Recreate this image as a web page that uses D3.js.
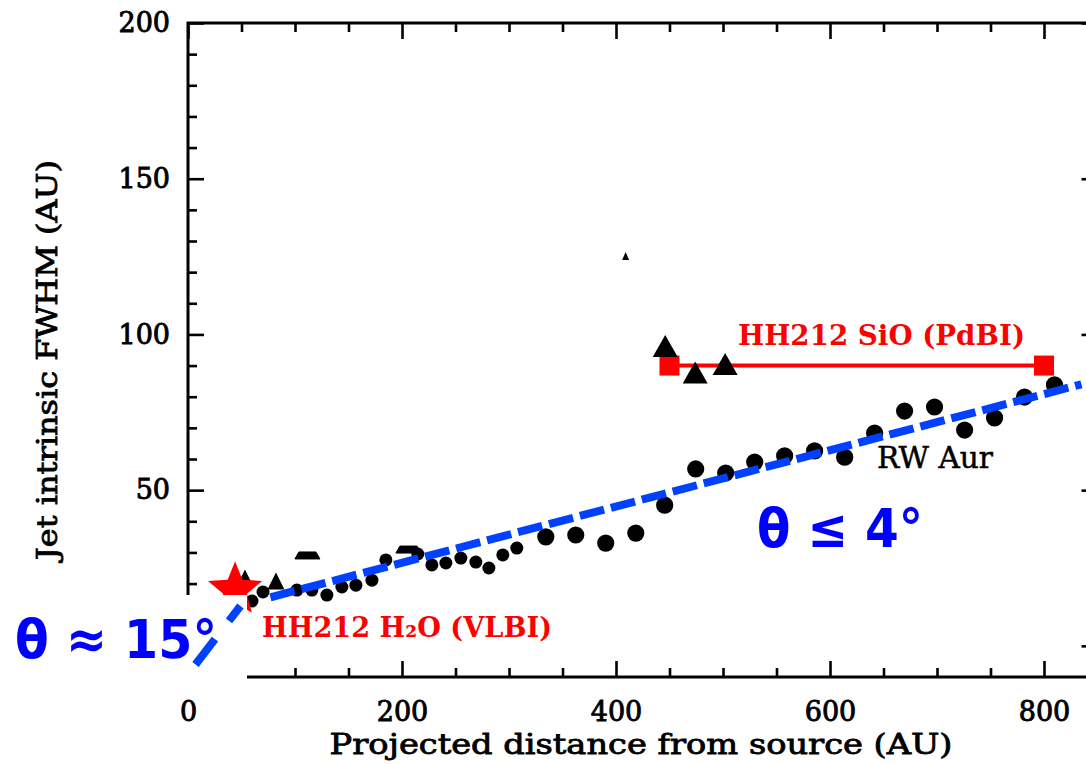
<!DOCTYPE html>
<html>
<head>
<meta charset="utf-8">
<script src="https://cdn.jsdelivr.net/npm/d3@7"></script>
<style>
  html, body { margin: 0; padding: 0; background: #fff; }
  svg { display: block; }
</style>
</head>
<body>
<svg id="chart" width="1086" height="764"></svg>
<script>
// ---- Data: projected distance (AU) vs. jet intrinsic FWHM (AU) ----

// RW Aur, finely sampled inner knots [distance, FWHM]
const rwAurInner = [
  [59.8, 14.4], [70.1, 17.3], [101.8, 17.9], [115.8, 17.9], [129.8, 16.3],
  [143.8, 18.9], [156.9, 19.5], [171.9, 21.1], [184.9, 27.6], [214.8, 29.5],
  [227.9, 26.0], [241.0, 26.6], [255.0, 28.2], [269.0, 26.9], [281.2, 25.0],
  [294.2, 29.2], [307.3, 31.4]
];

// RW Aur, outer knots [distance, FWHM]
const rwAurOuter = [
  [334.4, 35.0], [362.4, 35.6], [390.4, 33.0], [418.5, 36.2], [445.5, 45.2],
  [474.5, 56.8], [502.5, 55.5], [529.6, 59.0], [557.6, 61.0], [585.6, 62.6],
  [613.7, 60.6], [641.7, 68.3], [669.7, 75.4], [697.7, 76.7], [725.8, 69.3],
  [753.8, 73.2], [781.8, 79.9], [809.8, 83.8]
];

// Triangles [distance, FWHM]
const triSmall = [[53.2, 21.8], [82.2, 20.8]];
const triLarge = [[446.0, 96.3], [474.0, 87.8], [502.0, 90.5]];
const triTiny = [[409.0, 125.2]];
// Triangles whose upper part is hidden: [distance, FWHM at base]
const triBaseOnly = [[111.6, 27.9], [206.0, 29.8]];

// HH212 SiO (PdBI): width range endpoints [distance, FWHM]
const hh212SiO = [[450, 90], [800, 90]];
// HH212 H2O (VLBI) [distance, FWHM]
const hh212H2O = [[44, 18]];

// Opening-angle fits [distance, FWHM]
const fitWide = [[7, -6.0], [49, 12.8]];     // theta ~ 15 deg
const fitNarrow = [[77, 15.6], [835, 84.0]]; // theta <= 4 deg

// Axis ticks
const xMajorTicks = [0, 200, 400, 600, 800];
const xMinorTicks = [50, 100, 150, 250, 300, 350, 450, 500, 550, 650, 700, 750, 850];
const yMajorTicks = [0, 50, 100, 150, 200];
const yLabelledTicks = [50, 100, 150, 200];
const yMinorTicks = [-10, 10, 20, 30, 40, 60, 70, 80, 90, 110, 120, 130, 140, 160, 170, 180, 190];

const xDomain = [0, 850];
const yDomain = [-10, 200];

// ---- Layout ----
const svg = d3.select("#chart");
const plot = { left: 188, right: 1097.5, top: 23, bottom: 677 };

const x = d3.scaleLinear().domain(xDomain).range([plot.left, plot.right]);
const y = d3.scaleLinear().domain(yDomain).range([plot.bottom, plot.top]);

const serif = "'DejaVu Serif', serif";
const sans = "'DejaVu Sans', sans-serif";

// ---- Axes ----
function styleAxis(g) {
  g.select(".domain").remove();
  g.selectAll(".tick line").attr("stroke", "#000").attr("stroke-width", 2.6);
  g.selectAll(".tick text")
    .attr("fill", "#000")
    .attr("stroke", "#000")
    .attr("stroke-width", 0.9)
    .style("font-family", serif)
    .style("font-size", "27px");
}

// left
svg.append("g").attr("transform", `translate(${plot.left},0)`)
  .call(d3.axisLeft(y).tickValues(yMajorTicks).tickSizeInner(-16).tickSizeOuter(0).tickFormat(""))
  .call(styleAxis);
svg.append("g").attr("transform", `translate(${plot.left},0)`)
  .call(d3.axisLeft(y).tickValues(yLabelledTicks).tickSizeInner(0).tickSizeOuter(0).tickPadding(18).tickFormat(d3.format("d")))
  .call(styleAxis);
svg.append("g").attr("transform", `translate(${plot.left},0)`)
  .call(d3.axisLeft(y).tickValues(yMinorTicks).tickSizeInner(-9).tickSizeOuter(0).tickFormat(""))
  .call(styleAxis);
// right
svg.append("g").attr("transform", `translate(${plot.right},0)`)
  .call(d3.axisRight(y).tickValues(yMajorTicks).tickSizeInner(-16).tickSizeOuter(0).tickFormat(""))
  .call(styleAxis);
svg.append("g").attr("transform", `translate(${plot.right},0)`)
  .call(d3.axisRight(y).tickValues(yMinorTicks).tickSizeInner(-9).tickSizeOuter(0).tickFormat(""))
  .call(styleAxis);
// bottom
svg.append("g").attr("transform", `translate(0,${plot.bottom})`)
  .call(d3.axisBottom(x).tickValues(xMajorTicks).tickSizeInner(-16).tickSizeOuter(0).tickPadding(25).tickFormat(d3.format("d")))
  .call(styleAxis);
svg.append("g").attr("transform", `translate(0,${plot.bottom})`)
  .call(d3.axisBottom(x).tickValues(xMinorTicks).tickSizeInner(-9).tickSizeOuter(0).tickFormat(""))
  .call(styleAxis);
// top
svg.append("g").attr("transform", `translate(0,${plot.top})`)
  .call(d3.axisTop(x).tickValues(xMajorTicks).tickSizeInner(-16).tickSizeOuter(0).tickFormat(""))
  .call(styleAxis);
svg.append("g").attr("transform", `translate(0,${plot.top})`)
  .call(d3.axisTop(x).tickValues(xMinorTicks).tickSizeInner(-9).tickSizeOuter(0).tickFormat(""))
  .call(styleAxis);

// frame
svg.append("rect")
  .attr("x", x(xDomain[0])).attr("y", y(yDomain[1]))
  .attr("width", x(xDomain[1]) - x(xDomain[0]))
  .attr("height", y(yDomain[0]) - y(yDomain[1]))
  .attr("fill", "none").attr("stroke", "#000").attr("stroke-width", 3);

// axis titles
svg.append("text")
  .attr("x", 641).attr("y", 754)
  .attr("text-anchor", "middle")
  .attr("textLength", 623).attr("lengthAdjust", "spacingAndGlyphs")
  .attr("fill", "#000").attr("stroke", "#000").attr("stroke-width", 0.8)
  .style("font-family", serif).style("font-size", "27px")
  .text("Projected distance from source (AU)");

svg.append("text")
  .attr("transform", "translate(57,360) rotate(-90)")
  .attr("text-anchor", "middle")
  .attr("textLength", 400).attr("lengthAdjust", "spacingAndGlyphs")
  .attr("fill", "#000").attr("stroke", "#000").attr("stroke-width", 0.8)
  .style("font-family", serif).style("font-size", "27px")
  .text("Jet intrinsic FWHM (AU)");

// ---- Marks ----
const marks = svg.append("g");

function triPath(cx, cy, w, h) {
  return `M${cx - w / 2},${cy + h / 2}L${cx},${cy - h / 2}L${cx + w / 2},${cy + h / 2}Z`;
}

marks.selectAll("circle.inner").data(rwAurInner).join("circle")
  .attr("class", "inner")
  .attr("cx", d => x(d[0])).attr("cy", d => y(d[1])).attr("r", 6.5)
  .attr("fill", "#000");

marks.selectAll("circle.outer").data(rwAurOuter).join("circle")
  .attr("class", "outer")
  .attr("cx", d => x(d[0])).attr("cy", d => y(d[1])).attr("r", 8.6)
  .attr("fill", "#000");

marks.selectAll("path.tri-s").data(triSmall).join("path")
  .attr("class", "tri-s")
  .attr("d", d => triPath(x(d[0]), y(d[1]), 17, 17))
  .attr("fill", "#000");

marks.selectAll("path.tri-b").data(triBaseOnly).join("path")
  .attr("class", "tri-b")
  .attr("d", d => {
    const cx = x(d[0]), yb = y(d[1]);
    return `M${cx - 12.5},${yb}L${cx - 8.5},${yb - 7}L${cx + 8.5},${yb - 7}L${cx + 12.5},${yb}Z`;
  })
  .attr("fill", "#000").attr("stroke", "#000").attr("stroke-width", 1).attr("stroke-linejoin", "round");

marks.selectAll("path.tri-t").data(triTiny).join("path")
  .attr("class", "tri-t")
  .attr("d", d => triPath(x(d[0]), y(d[1]), 7, 8))
  .attr("fill", "#000");

// HH212 SiO width range
marks.append("line")
  .attr("x1", x(hh212SiO[0][0])).attr("y1", y(hh212SiO[0][1]))
  .attr("x2", x(hh212SiO[1][0])).attr("y2", y(hh212SiO[1][1]))
  .attr("stroke", "#ff0000").attr("stroke-width", 4);
marks.selectAll("rect.sio").data(hh212SiO).join("rect")
  .attr("class", "sio")
  .attr("x", d => x(d[0]) - 10).attr("y", d => y(d[1]) - 10)
  .attr("width", 20).attr("height", 20)
  .attr("fill", "#ff0000");

marks.selectAll("path.tri-l").data(triLarge).join("path")
  .attr("class", "tri-l")
  .attr("d", d => triPath(x(d[0]), y(d[1]), 25, 22))
  .attr("fill", "#000");

// HH212 H2O star
function starPath(cx, cy, R, r) {
  const pts = [];
  for (let i = 0; i < 10; i++) {
    const a = -Math.PI / 2 + i * Math.PI / 5;
    const rad = i % 2 === 0 ? R : r;
    pts.push([cx + rad * Math.cos(a), cy + rad * Math.sin(a)]);
  }
  return "M" + pts.map(p => p.join(",")).join("L") + "Z";
}
marks.selectAll("path.star").data(hh212H2O).join("path")
  .attr("class", "star")
  .attr("d", d => starPath(x(d[0]), y(d[1]), 28.5, 12.5))
  .attr("fill", "#ff0000");

// blank panel over the lower-left corner of the frame
svg.append("rect")
  .attr("x", 0).attr("y", 595).attr("width", 247).attr("height", 95)
  .attr("fill", "#fff");

// ---- Fits ----
const line = d3.line().x(d => x(d[0])).y(d => y(d[1]));
svg.append("path").datum(fitNarrow)
  .attr("d", line)
  .attr("fill", "none").attr("stroke", "#0040ff").attr("stroke-width", 8)
  .attr("stroke-dasharray", "25 7");
svg.append("path").datum(fitWide)
  .attr("d", line)
  .attr("fill", "none").attr("stroke", "#0040ff").attr("stroke-width", 8)
  .attr("stroke-dasharray", "32 23");

// ---- Annotations ----
svg.append("text")
  .attr("x", 738).attr("y", 345)
  .attr("textLength", 287).attr("lengthAdjust", "spacingAndGlyphs")
  .attr("fill", "#ff0000")
  .style("font-family", serif).style("font-weight", "bold").style("font-size", "28px")
  .text("HH212 SiO (PdBI)");

svg.append("text")
  .attr("x", 262).attr("y", 637)
  .attr("textLength", 290).attr("lengthAdjust", "spacingAndGlyphs")
  .attr("fill", "#ff0000")
  .style("font-family", serif).style("font-weight", "bold").style("font-size", "28px")
  .text("HH212 H₂O (VLBI)");

svg.append("text")
  .attr("x", 877).attr("y", 468)
  .attr("textLength", 116).attr("lengthAdjust", "spacingAndGlyphs")
  .attr("fill", "#000").attr("stroke", "#000").attr("stroke-width", 0.5)
  .style("font-family", serif).style("font-size", "29px")
  .text("RW Aur");

svg.append("text")
  .attr("x", 757).attr("y", 547)
  .attr("textLength", 166).attr("lengthAdjust", "spacingAndGlyphs")
  .attr("fill", "#0000ff")
  .style("font-family", sans).style("font-weight", "bold").style("font-size", "54px")
  .text("θ ≤ 4°");

svg.append("text")
  .attr("x", 15).attr("y", 658)
  .attr("textLength", 202).attr("lengthAdjust", "spacingAndGlyphs")
  .attr("fill", "#0000ff")
  .style("font-family", sans).style("font-weight", "bold").style("font-size", "54px")
  .text("θ ≈ 15°");
</script>
</body>
</html>
